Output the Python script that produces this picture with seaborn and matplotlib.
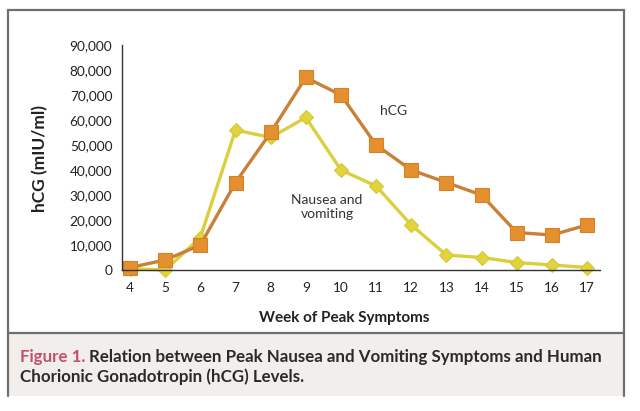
import matplotlib
matplotlib.use("Agg")
import matplotlib.pyplot as plt
import seaborn as sns
import pandas as pd
from matplotlib.patches import Rectangle
from matplotlib.lines import Line2D
from matplotlib.ticker import FuncFormatter

weeks = [4, 5, 6, 7, 8, 9, 10, 11, 12, 13, 14, 15, 16, 17]
hcg = [1000, 4000, 10000, 35000, 55000, 77000, 70000, 50000, 40000, 35000, 30000, 15000, 14000, 18000]
nausea = [500, 0, 13000, 56000, 53000, 61000, 40000, 33600, 18000, 6000, 5000, 3000, 2000, 1000]
yticks = [0, 10000, 20000, 30000, 40000, 50000, 60000, 70000, 80000, 90000]

sns.set_style("white")
plt.rcParams['font.family'] = ['Lato', 'DejaVu Sans']

df = pd.DataFrame({
    "week": weeks * 2,
    "value": nausea + hcg,
    "series": ["Nausea and vomiting"] * len(weeks) + ["hCG"] * len(weeks),
})

fig = plt.figure(figsize=(6.4, 4.11), dpi=100)
fig.patch.set_facecolor("white")

W, H = 640, 411
def fx(px): return px / W
def fy(py): return 1 - py / H

# caption band and frame
fig.patches.append(Rectangle((fx(8), fy(396)), fx(616), (396 - 333) / H,
                             transform=fig.transFigure, facecolor="#f1eeec",
                             edgecolor="none", zorder=0))
frame_col = "#6e6e6e"
for xs, ys in [([8, 8], [10, 396]), ([624, 624], [10, 396]), ([8, 624], [10, 10]), ([8, 624], [333, 333])]:
    fig.add_artist(Line2D([fx(x) for x in xs], [fy(y) for y in ys], transform=fig.transFigure,
                          color=frame_col, linewidth=1.6))

ax = fig.add_axes([fx(122), fy(270), fx(600) - fx(122), (270 - 45) / H])
ax.set_facecolor("none")

sns.lineplot(data=df, x="week", y="value", hue="series", style="series",
             hue_order=["Nausea and vomiting", "hCG"], style_order=["Nausea and vomiting", "hCG"],
             palette={"Nausea and vomiting": "#dccf3e", "hCG": "#c98038"},
             markers={"Nausea and vomiting": "D", "hCG": "s"}, dashes=False,
             linewidth=2.4, markersize=8, markeredgewidth=0.8, legend=False, ax=ax, clip_on=False)

for ln in ax.lines:
    if ln.get_marker() == "s":
        ln.set_markerfacecolor("#e5902f")
        ln.set_markeredgecolor("#d88028")
        ln.set_markersize(9.5)
    else:
        ln.set_markerfacecolor("#e0d43a")
        ln.set_markeredgecolor("#d4c838")
        ln.set_markersize(7)
    ln.set_clip_on(False)

ax.set_xlim(3.77, 17.37)
ax.set_ylim(0, 90000)
ax.set_xticks(weeks)
ax.set_yticks(yticks)
ax.yaxis.set_major_formatter(FuncFormatter(lambda v, p: f"{int(v):,}"))
for s in ["top", "right"]:
    ax.spines[s].set_visible(False)
for s in ["left", "bottom"]:
    ax.spines[s].set_color("#333333")
    ax.spines[s].set_linewidth(1.0)
ax.tick_params(axis="both", which="major", direction="out", length=5, width=1.0,
               color="#333333", labelsize=9.8, labelcolor="#222222", pad=2)
ax.tick_params(axis="x", pad=4)

ax.set_xlabel("Week of Peak Symptoms", fontsize=11, fontweight="bold", color="#222222")
ax.xaxis.set_label_coords((344 - 122) / 478, -(318 - 270) / 225, transform=ax.transAxes)
ax.xaxis.label.set_va("center")
ax.set_ylabel("hCG (mIU/ml)", fontsize=12.5, fontweight="bold", color="#222222")
ax.yaxis.set_label_coords(-(122 - 40) / 478, (270 - 158) / 225, transform=ax.transAxes)
ax.yaxis.label.set_va("center")

ax.text(11.5, 63500, "hCG", fontsize=10, color="#333333", ha="center", va="center")
ax.text(9.6, 25000, "Nausea and\nvomiting", fontsize=10, color="#333333", ha="center", va="center",
        linespacing=1.2)

# caption
t1 = fig.text(fx(20), fy(357), "Figure 1.", fontsize=12.2, fontweight="bold", color="#c5506a",
              va="center", ha="left")
fig.canvas.draw()
bb = t1.get_window_extent()
fig.text(bb.x1 / W + 0.006, fy(357),
         "Relation between Peak Nausea and Vomiting Symptoms and Human",
         fontsize=12.2, fontweight="bold", color="#2a2a2a", va="center", ha="left")
fig.text(fx(20), fy(377), "Chorionic Gonadotropin (hCG) Levels.", fontsize=12.2, fontweight="bold",
         color="#2a2a2a", va="center", ha="left")

fig.savefig("out.png", dpi=100)
